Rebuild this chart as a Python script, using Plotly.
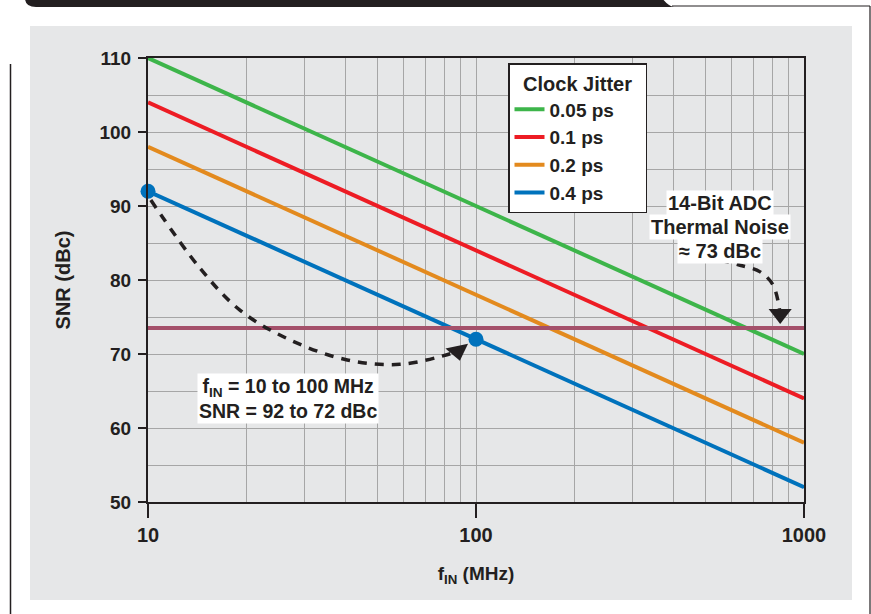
import numpy as np
import plotly.graph_objects as go

# ---- data ----
freq_mhz = [10, 100, 1000]
jitter_labels = ["0.05 ps", "0.1 ps", "0.2 ps", "0.4 ps"]
snr_005 = [110, 90, 70]
snr_01 = [104, 84, 64]
snr_02 = [98, 78, 58]
snr_04 = [92, 72, 52]
series_colors = ["#3DB54A", "#ED1C24", "#E38A1E", "#0072BC"]

thermal_noise_snr = 73.5
marked_freq = [10, 100]
marked_snr = [92, 72]

# dashed guide curves (annotation arrows)
curve1_f = [10.2, 14.4, 19.1, 27.1, 40.5, 58.6, 81.6]
curve1_snr = [90.8, 81.6, 75.9, 71.9, 69.2, 68.6, 69.9]
arrow1 = (88, 70.4)
curve2_f = [554, 638, 735, 805]
curve2_snr = [82.7, 82.0, 81.1, 79.3]
arrow2 = (846, 75.4)

x_tickvals = [10, 100, 1000]
x_minor = [20, 30, 40, 50, 60, 70, 80, 90, 200, 300, 400, 500, 600, 700, 800, 900]

INK = "#231F20"
FONT = "Liberation Sans, Arial, sans-serif"
W, H = 871, 614
L, R, T, B = 148, 67, 58, 112
pw, ph = W - L - R, H - T - B


def px(x):
    return (x - L) / pw


def py(y):
    return (H - B - y) / ph


def bfont(size):
    return dict(size=size, family=FONT, color=INK, weight="bold")


fig = go.Figure()

for name, vals, col in zip(jitter_labels, [snr_005, snr_01, snr_02, snr_04], series_colors):
    fig.add_trace(go.Scatter(x=freq_mhz, y=vals, mode="lines", name=name,
                             line=dict(color=col, width=4), cliponaxis=False))

fig.add_trace(go.Scatter(x=[freq_mhz[0], freq_mhz[-1]], y=[thermal_noise_snr] * 2,
                         mode="lines", line=dict(color="#A4506A", width=4),
                         showlegend=False))

fig.add_trace(go.Scatter(x=curve1_f + [arrow1[0]], y=curve1_snr + [arrow1[1]], mode="lines",
                         line=dict(color=INK, width=3.5, dash="9px,8px", shape="spline"),
                         showlegend=False))
fig.add_trace(go.Scatter(x=[arrow1[0]], y=[arrow1[1]], mode="markers",
                         marker=dict(symbol="triangle-down", size=20, color=INK, angle=-12),
                         showlegend=False))
fig.add_trace(go.Scatter(x=curve2_f + [arrow2[0]], y=curve2_snr + [arrow2[1]], mode="lines",
                         line=dict(color=INK, width=3.5, dash="9px,8px", shape="spline"),
                         showlegend=False))
fig.add_trace(go.Scatter(x=[arrow2[0]], y=[arrow2[1]], mode="markers",
                         marker=dict(symbol="triangle-down", size=20, color=INK),
                         showlegend=False))

fig.add_trace(go.Scatter(x=marked_freq, y=marked_snr, mode="markers",
                         marker=dict(color=series_colors[3], size=15),
                         showlegend=False, cliponaxis=False))

fig.update_xaxes(type="log", range=[1, 3], tickvals=x_tickvals,
                 ticktext=[str(v) for v in x_tickvals],
                 showgrid=True, gridcolor="#A6A6A6", gridwidth=1,
                 minor=dict(tickvals=x_minor, showgrid=True, gridcolor="#A6A6A6",
                            gridwidth=1, ticklen=0),
                 ticks="outside", ticklen=14, tickwidth=1.5, tickcolor=INK,
                 showline=True, linecolor=INK, linewidth=2, mirror=True,
                 tickfont=bfont(20), ticklabelstandoff=0,
                 title=dict(text="f<sub>IN</sub> (MHz)", standoff=22, font=bfont(19)),
                 zeroline=False)

fig.update_yaxes(range=[50, 110], dtick=10, tick0=50,
                 showgrid=True, gridcolor="#A6A6A6", gridwidth=1,
                 minor=dict(dtick=5, tick0=50, showgrid=True, gridcolor="#A6A6A6",
                            gridwidth=1, ticklen=0),
                 ticks="outside", ticklen=8, tickwidth=1.5, tickcolor=INK,
                 showline=True, linecolor=INK, linewidth=2, mirror=True,
                 tickfont=bfont(19), ticklabelstandoff=3,
                 title=dict(text="SNR (dBc)", standoff=23, font=bfont(20)),
                 zeroline=False)

ax_annot = dict(xref="x", yref="y", showarrow=False, bgcolor="white", borderpad=1,
                font=bfont(20))
fig.add_annotation(x=np.log10(555), y=90.4, text="14-Bit ADC", **ax_annot)
fig.add_annotation(x=np.log10(555), y=87.1, text="Thermal Noise", **ax_annot)
fig.add_annotation(x=np.log10(555), y=83.9, text="≈ 73 dBc", **ax_annot)
fig.add_annotation(x=np.log10(26.7), y=64.05,
                   text="f<sub>IN</sub> = 10 to 100 MHz<br>SNR = 92 to 72 dBc",
                   xref="x", yref="y", showarrow=False, bgcolor="white", borderpad=1,
                   font=bfont(19.5))

shapes = [
    # grey panel
    dict(type="rect", xref="paper", yref="paper", x0=px(30), x1=px(852), y0=py(600), y1=py(26),
         fillcolor="#E6E7E8", line=dict(width=0), layer="below"),
    # left rule
    dict(type="line", xref="paper", yref="paper", x0=px(10.5), x1=px(10.5), y0=py(64), y1=py(614),
         line=dict(color=INK, width=1.5)),
    # dark header band
    dict(type="path", xref="paper", yref="paper",
         path=(f"M {px(25)},{py(-2)} L {px(662)},{py(-2)} Q {px(668)},{py(6)} {px(674)},{py(7)} "
               f"L {px(36)},{py(7)} Q {px(25)},{py(7)} {px(25)},{py(-2)} Z"),
         fillcolor=INK, line=dict(width=0)),
    # right rule
    dict(type="line", xref="paper", yref="paper", x0=px(672), x1=px(870), y0=py(6), y1=py(6),
         line=dict(color=INK, width=1.2)),
    dict(type="line", xref="paper", yref="paper", x0=px(870), x1=px(870), y0=py(6), y1=py(614),
         line=dict(color=INK, width=1.2)),
]

fig.update_layout(
    width=W, height=H,
    margin=dict(l=L, r=R, t=T, b=B, autoexpand=False),
    paper_bgcolor="white", plot_bgcolor="white",
    font=dict(family=FONT, color=INK),
    shapes=shapes,
    legend=dict(x=px(508), y=py(63), xanchor="left", yanchor="top",
                bgcolor="white", bordercolor=INK, borderwidth=1.5,
                title=dict(text="\u00a0\u00a0Clock Jitter\u00a0\u00a0", side="top center",
                           font=bfont(20)),
                font=bfont(19), itemwidth=30),
)

fig.write_html("out.html", config={"displayModeBar": False},
               post_script="document.body.style.margin='0';")
